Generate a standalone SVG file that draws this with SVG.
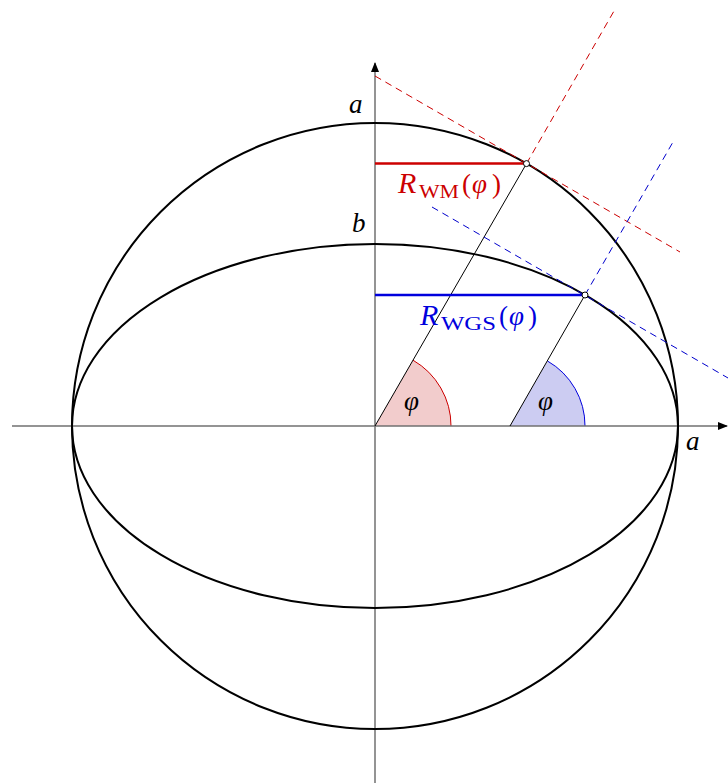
<svg xmlns="http://www.w3.org/2000/svg" width="728" height="783" viewBox="0 0 728 783">
<style>
.axis{stroke:#707070;stroke-width:1.5;fill:none}
.curve{stroke:#000;stroke-width:2;fill:none}
.thin{stroke:#000;stroke-width:1;fill:none}
.dashr{stroke:#cc0000;stroke-width:1;stroke-dasharray:7,5;fill:none}
.dashb{stroke:#0000cc;stroke-width:1;stroke-dasharray:7,5;fill:none}
.lbl{font-family:"Liberation Serif","DejaVu Serif",serif;font-size:27px}
.sub{font-size:19px}
.big{font-size:30px}
.it{font-style:italic}
.pt{fill:#fff;stroke:#000;stroke-width:1}
</style>
<defs>
<marker id="arr" markerWidth="10" markerHeight="8" refX="9" refY="4" orient="auto" markerUnits="userSpaceOnUse">
<path d="M0,0 L10,4 L0,8 Z" fill="#000"/>
</marker>
</defs>
<g id="wedges">
<path d="M375,426 L413,360.2 A76,76 0 0 1 451,426 Z" fill="#f2cccc"/>
<path d="M413,360.2 A76,76 0 0 1 451,426" fill="none" stroke="#cc0000" stroke-width="1"/>
<path d="M510,426 L547.5,361 A75,75 0 0 1 585,426 Z" fill="#ccccf2"/>
<path d="M547.5,361 A75,75 0 0 1 585,426" fill="none" stroke="#0000dd" stroke-width="1"/>
</g>
<g id="axes">
<line class="axis" x1="12" y1="426" x2="727" y2="426" marker-end="url(#arr)"/>
<line class="axis" x1="375" y1="783" x2="375" y2="63" marker-end="url(#arr)"/>
</g>
<g id="circle"><circle class="curve" cx="375" cy="426" r="303"/></g>
<g id="ellipse"><ellipse class="curve" cx="375" cy="426" rx="303" ry="182"/></g>
<g id="connectors">
<line class="thin" x1="375" y1="426" x2="526.5" y2="163.6"/>
<line class="thin" x1="510" y1="426" x2="585" y2="295"/>
<line class="dashr" x1="526.5" y1="163.6" x2="614" y2="11"/>
<line class="dashr" x1="375" y1="76" x2="680" y2="252"/>
<line class="dashb" x1="585" y1="295" x2="673" y2="142"/>
<line class="dashb" x1="432" y1="207" x2="728" y2="378"/>
<line x1="375" y1="163.6" x2="526.5" y2="163.6" stroke="#cc0000" stroke-width="2.5"/>
<line x1="375" y1="295" x2="585" y2="295" stroke="#0000dd" stroke-width="2.5"/>
</g>
<g id="points">
<circle class="pt" cx="526.5" cy="163.6" r="3"/>
<circle class="pt" cx="585" cy="295" r="3"/>
</g>
<g id="labels">
<text class="lbl it" x="349" y="113">a</text>
<text class="lbl it" x="352" y="232">b</text>
<text class="lbl it" x="686" y="450">a</text>
<text class="lbl it" x="404" y="410">φ</text>
<text class="lbl it" x="538" y="410">φ</text>
<text class="lbl" fill="#cc0000"><tspan class="it big" x="398" y="193">R</tspan><tspan class="sub" x="419" y="198" textLength="40" lengthAdjust="spacingAndGlyphs">WM</tspan><tspan x="462" y="193">(</tspan><tspan class="it" x="472" y="193">φ</tspan><tspan x="492" y="193">)</tspan></text>
<text class="lbl" fill="#0000dd"><tspan class="it big" x="420" y="325">R</tspan><tspan class="sub" x="441" y="330" textLength="55" lengthAdjust="spacingAndGlyphs">WGS</tspan><tspan x="499" y="325">(</tspan><tspan class="it" x="509" y="325">φ</tspan><tspan x="528" y="325">)</tspan></text>
</g>
</svg>
